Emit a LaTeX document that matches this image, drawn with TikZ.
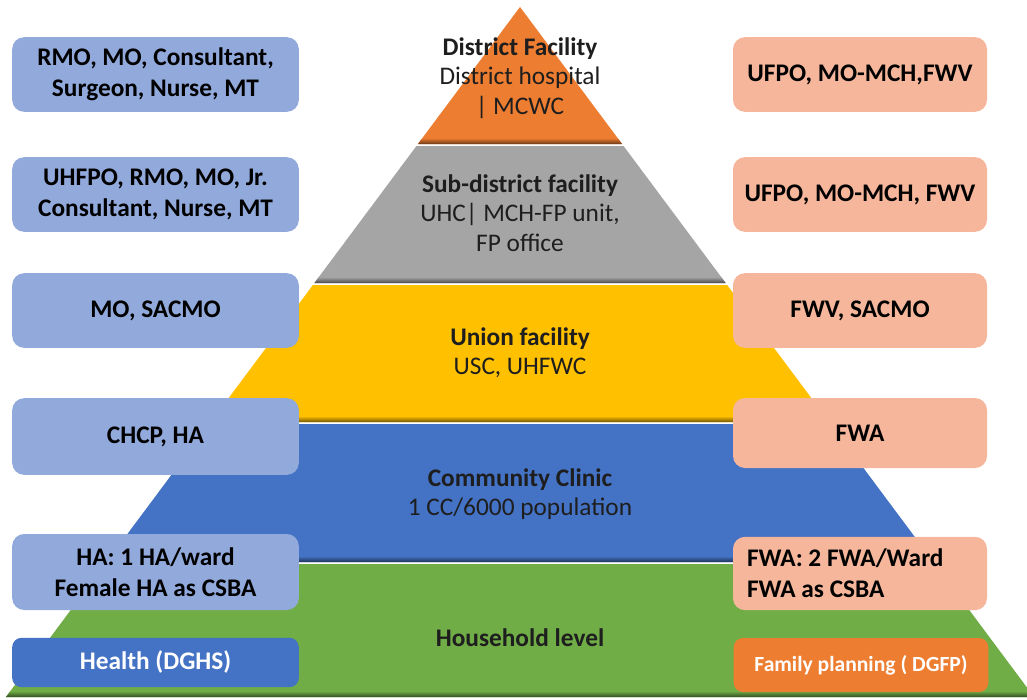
\documentclass[tikz,border=0pt]{standalone}
\usepackage{fontspec}
\setmainfont{Carlito}
\usepackage{tikz}
\usetikzlibrary{calc}
\tikzset{>=latex}

\definecolor{orangeband}{HTML}{ED7D31}
\definecolor{greyband}{HTML}{A5A5A5}
\definecolor{yellowband}{HTML}{FFC000}
\definecolor{blueband}{HTML}{4472C4}
\definecolor{greenband}{HTML}{70AD47}
\definecolor{healthlight}{HTML}{92A9DB}
\definecolor{fplight}{HTML}{F5B69B}
\definecolor{textdark}{HTML}{1E1E1E}

\tikzset{
  staff/.style={rounded corners=9pt, minimum width=215pt, minimum height=56pt,
    align=center, font=\fontsize{19}{23}\selectfont\bfseries, text=black},
  healthstaff/.style={staff, fill=healthlight},
  fpstaff/.style={staff, fill=fplight, minimum width=190.5pt},
  bandtext/.style={align=center, text=textdark, font=\fontsize{19}{22}\selectfont}
}

\begin{document}
\begin{tikzpicture}[x=0.75pt, y=-0.75pt]
\clip (0,0) rectangle (1027,699);
\fill[white] (0,0) rectangle (1027,699);

% the five levels, each with a soft shadow along its lower edge
\foreach \yt/\yb/\col in {7/144/orangeband, 146/283/greyband, 285/422/yellowband,
                          424/562/blueband, 564/697/greenband}{
  \pgfmathsetmacro\xt{0.745*(\yt-7)}
  \pgfmathsetmacro\xs{0.745*(\yb-6-7)}
  \pgfmathsetmacro\xb{0.745*(\yb-7)}
  \fill[\col] (520-\xt,\yt) -- (520+\xt,\yt) -- (520+\xb,\yb) -- (520-\xb,\yb) -- cycle;
  \shade[top color=\col, bottom color=\col!45!black]
    (520-\xs,\yb-6) -- (520+\xs,\yb-6) -- (520+\xb,\yb) -- (520-\xb,\yb) -- cycle;
}

\node[bandtext] (district) at (520,78)
  {\textbf{District Facility}\\District hospital\\| MCWC};
\node[bandtext] (subdistrict) at (520,213)
  {\textbf{Sub-district facility}\\UHC| MCH-FP unit,\\FP office};
\node[bandtext] (union) at (520,353)
  {\textbf{Union facility}\\USC, UHFWC};
\node[bandtext] (community) at (520,494)
  {\textbf{Community Clinic}\\1 CC/6000 population};
\node[bandtext] (household) at (520,638)
  {\textbf{Household level}};

% health side
\node[healthstaff] (h1) at (155.5,74.5) {RMO, MO, Consultant,\\Surgeon, Nurse, MT};
\node[healthstaff] (h2) at (155.5,194.5) {UHFPO, RMO, MO, Jr.\\Consultant, Nurse, MT};
\node[healthstaff] (h3) at (155.5,310.5) {MO, SACMO};
\node[healthstaff, minimum height=57.5pt] (h4) at (155.5,436.5) {CHCP, HA};
\node[healthstaff, minimum height=57pt] (h5) at (155.5,572) {HA: 1 HA/ward\\Female HA as CSBA};
\node[staff, fill=blueband, text=white, minimum height=37pt, rounded corners=7pt]
  (dghs) at (155.5,662.5) {Health (DGHS)};

% family planning side
\node[fpstaff] (f1) at (860,74.5) {UFPO, MO-MCH,FWV};
\node[fpstaff] (f2) at (860,194.5) {UFPO, MO-MCH, FWV};
\node[fpstaff] (f3) at (860,310.5) {FWV, SACMO};
\node[fpstaff, minimum height=52.5pt] (f4) at (860,433) {FWA};
\node[fpstaff, minimum height=55pt, align=flush left, inner xsep=10.5pt, text width=169.5pt]
  (f5) at (860,573.5) {FWA: 2 FWA/Ward\\FWA as CSBA};
\node[staff, fill=orangeband, text=white, minimum width=191pt, minimum height=40.5pt,
  rounded corners=7pt, font=\fontsize{16.2}{19}\selectfont\bfseries]
  (dgfp) at (861,665) {Family planning ( DGFP)};
\end{tikzpicture}
\end{document}
